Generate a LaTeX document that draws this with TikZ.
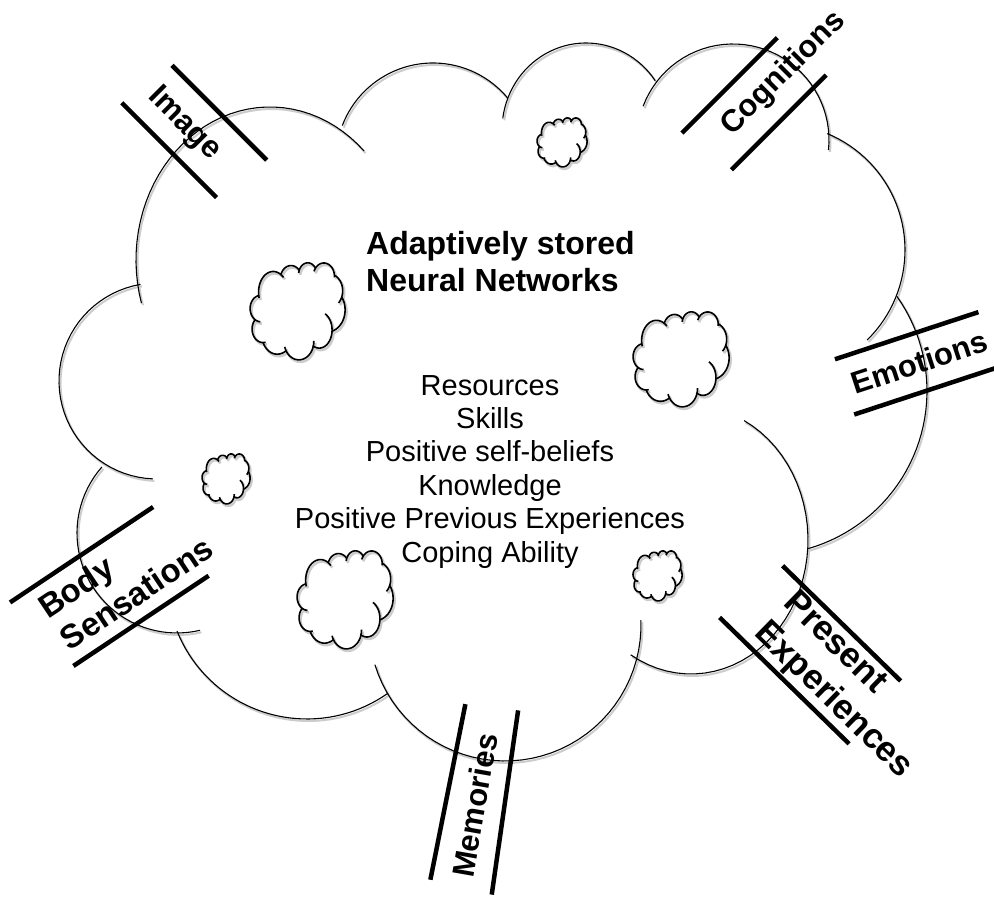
\documentclass[tikz,border=0pt]{standalone}
\usepackage{fontspec}
\setmainfont{Liberation Sans}
\usetikzlibrary{calc}
% one puff of the cloud: centre, angles, radii
\def\lobe[#1](#2,#3)(#4:#5:#6:#7){\draw[#1] plot[domain=#4:#5,samples=40] ({#2+#6*cos(\x)},{#3+#7*sin(\x)});}
% the eleven puffs, around the centre of the cloud
\def\cloudlobes#1{%
  \lobe[#1](-335,22)(99.7:267.6:98:98)
  \lobe[#1](-222,143)(45.4:196.4:134:153)
  \lobe[#1](-59,243)(39.9:159.2:97:97)
  \lobe[#1](94,273)(34.5:172.3:84:87)
  \lobe[#1](241,263)(-6:159.4:96:96)
  \lobe[#1](287,153)(-45.6:67.5:126:126)
  \lobe[#1](271,12)(-74:35.2:164:164)
  \lobe[#1](199,-137)(-121:63:117:134)
  \lobe[#1](13,-222)(197:362:136:136)
  \lobe[#1](-185,-176)(201.8:305.4:140:140)
  \lobe[#1](-315,-130)(138.7:283.3:100:100)}
% small cloud with its shadow
\def\puff(#1,#2)(#3,#4){%
  \begin{scope}[shift={(#1+1.5,#2-2)},xscale=#3,yscale=#4]\cloudlobes{puffshade}\end{scope}
  \begin{scope}[shift={(#1,#2)},xscale=#3,yscale=#4]\cloudlobes{puffline}\end{scope}}

\begin{document}
\begin{tikzpicture}[x=1pt,y=1pt,
    cloudline/.style={line width=1.1pt},
    cloudshade/.style={line width=2pt,black!20},
    puffline/.style={line width=1.6pt},
    puffshade/.style={line width=2.5pt,black!20},
    bar/.style={line width=4.5pt},
    lbl/.style={font=\fontsize{31}{36}\selectfont\bfseries,inner sep=0pt},
    title/.style={font=\fontsize{32}{37}\selectfont\bfseries,align=left,inner sep=0pt},
    list/.style={font=\fontsize{29}{33.4}\selectfont,align=center,inner sep=0pt}]
  \useasboundingbox (0,0) rectangle (994,899);

  %%%%% big cloud %%%%%
  \begin{scope}[shift={(493.5,494)}]\cloudlobes{cloudshade}\end{scope}
  \begin{scope}[shift={(492,496)}]\cloudlobes{cloudline}\end{scope}

  %%%%% small clouds %%%%%
  \puff(297.5,587.5)(0.1094,0.1351)
  \puff(562,756.5)(0.0576,0.0682)
  \puff(681,539.5)(0.1106,0.1323)
  \puff(226,420)(0.0553,0.0696)
  \puff(345,299)(0.1106,0.1365)
  \puff(657.5,323)(0.0565,0.0696)

  %%%%% texts %%%%%
  \node[title,anchor=north west] (title) at (366,667.7) {Adaptively stored\\Neural Networks};
  \node[list,anchor=north] (list) at (490,524) {Resources\\Skills\\Positive self-beliefs\\Knowledge\\Positive Previous Experiences\\Coping Ability};

  %%%%% labels %%%%%
  \begin{scope}[shift={(185.4,776.4)},rotate=-45,transform shape]
    \node[lbl] (image) at (0,-2) {Image};
    \draw[bar] (-50,31) -- (84,31);
    \draw[bar] (-59,-31) -- (75,-31);
  \end{scope}

  \begin{scope}[shift={(783,826)},rotate=45,transform shape]
    \node[lbl] (cognitions) at (0,-1) {Cognitions};
    \draw[bar] (-114,29) -- (21,29);
    \draw[bar] (-105,-32) -- (29,-32);
  \end{scope}

  \begin{scope}[shift={(920,534)},rotate=18.2,transform shape]
    \node[lbl] (emotions) at (0,3) {Emotions};
    \draw[bar] (-79,32) -- (72,32);
    \draw[bar] (-78,-26.5) -- (80,-26.5);
  \end{scope}

  \begin{scope}[shift={(111,311)},rotate=33.7,transform shape]
    \node[lbl,align=left,anchor=west,font=\fontsize{33}{39}\selectfont\bfseries] (body) at (-70,1) {Body\\Sensations};
    \draw[bar] (-92,44) -- (80,44);
    \draw[bar] (-74.5,-44) -- (88,-44);
  \end{scope}

  \begin{scope}[shift={(473,94)},rotate=80,transform shape]
    \node[lbl] (memories) at (0,-2) {Memories};
    \draw[bar] (-81,29) -- (98,25);
    \draw[bar] (-85,-34) -- (101,-28);
  \end{scope}

  \begin{scope}[shift={(813,247)},rotate=-44.3,transform shape]
    \node[lbl,align=left,anchor=west,font=\fontsize{35}{42}\selectfont\bfseries] (present) at (-55,0) {Present\\Experiences};
    \draw[bar] (-82,40.5) -- (83,40.5);
    \draw[bar] (-91,-40.5) -- (90,-40.5);
  \end{scope}
\end{tikzpicture}
\end{document}
